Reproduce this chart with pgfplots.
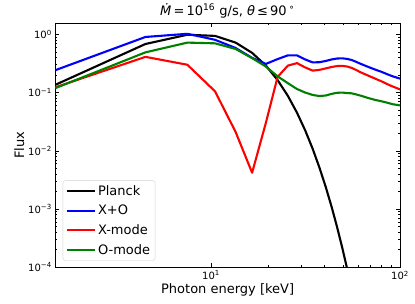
\documentclass[border=0pt]{standalone}
\usepackage{fontspec}
\setmainfont{DejaVu Sans}
\usepackage{pgfplots}
\usepackage{pgfplotstable}
\pgfplotsset{compat=1.18}

\pgfplotstableread{
E planck
1.5 0.1356
4.5 0.682
7.5 0.983
10.5 0.939
13.5 0.720
16.5 0.480
19.5 0.291
22.5 0.164
25.5 0.0879
28.5 0.04515
31.5 0.02243
34.5 0.01084
37.5 0.005121
40.5 0.002373
43.5 0.001082
46.5 0.000486
49.5 0.0002157
52.5 0.0000947
55.5 0.0000411
58.5 0.0000177
}\planck

\pgfplotstableread{
E xo xm om
1.5 0.242 0.123 0.119
4.5 0.90 0.41 0.49
7.5 1.02 0.30 0.72
10.5 0.805 0.105 0.70
13.5 0.581 0.021 0.56
16.5 0.394 0.0042 0.39
19.5 0.31 0.03 0.28
22.5 0.375 0.185 0.19
25.5 0.435 0.29 0.145
28.5 0.435 0.32 0.115
31.5 0.37 0.27 0.10
34.5 0.329 0.238 0.091
37.5 0.332 0.245 0.087
40.5 0.349 0.26 0.089
43.5 0.37 0.275 0.095
46.5 0.384 0.285 0.099
49.5 0.387 0.287 0.100
52.5 0.378 0.28 0.098
55.5 0.362 0.265 0.097
58.5 0.338 0.245 0.093
61.5 0.314 0.225 0.089
64.5 0.295 0.21 0.085
67.5 0.278 0.197 0.081
70.5 0.263 0.185 0.078
73.5 0.25 0.175 0.075
76.5 0.238 0.165 0.073
79.5 0.228 0.157 0.071
82.5 0.217 0.148 0.069
85.5 0.207 0.14 0.067
88.5 0.198 0.133 0.065
91.5 0.19 0.127 0.063
94.5 0.184 0.122 0.062
97.5 0.178 0.117 0.061
100.5 0.173 0.113 0.060
}\modes

\definecolor{mplgreen}{RGB}{0,128,0}

\begin{document}
\begin{tikzpicture}
\path[use as bounding box] (-55.3pt,-35.7pt) rectangle (359.7pt,267.3pt);
\begin{axis}[
  at={(0pt,0pt)}, anchor=south west,
  scale only axis,
  width=344.7pt, height=244pt,
  xmode=log, ymode=log,
  xmin=1.5, xmax=100,
  ymin=1e-4, ymax=1.545,
  xtick={10,100},
  xticklabels={10\textsuperscript{1},10\textsuperscript{2}},
  ytick={1e-4,1e-3,1e-2,1e-1,1},
  yticklabels={10\textsuperscript{−4},10\textsuperscript{−3},10\textsuperscript{−2},10\textsuperscript{−1},10\textsuperscript{0}},
  tick align=inside,
  xtick pos=both, ytick pos=both,
  major tick length=4pt, minor tick length=2.2pt,
  tick style={black, line width=0.6pt},
  axis line style={line width=0.7pt},
  tick label style={font=\fontsize{10}{12}\selectfont},
  label style={font=\fontsize{13}{15}\selectfont},
  xlabel={Photon energy [keV]},
  ylabel={Flux},
  xlabel style={yshift=3pt},
  ylabel style={yshift=-3pt},
  title={\textit{Ṁ}\,=\,10\textsuperscript{16} g/s, \textit{θ}\,≤\,90\,\textsuperscript{∘}},
  title style={font=\fontsize{13}{15}\selectfont, yshift=-4pt},
  legend cell align=left,
  legend style={at={(0.0215,0.027)}, anchor=south west,
    draw=black!18, rounded corners=2.5pt, fill=white, fill opacity=0.8, text opacity=1,
    font=\fontsize{13}{15}\selectfont, inner xsep=3pt, inner ysep=3pt,
    row sep=4.2pt},
  legend image code/.code={\draw[#1] (0pt,0pt) -- (28pt,0pt);},
  every axis plot/.append style={line width=2.1pt, line join=round},
]
\addplot[black] table[x=E, y=planck] {\planck};
\addlegendentry{Planck}
\addplot[blue] table[x=E, y=xo] {\modes};
\addlegendentry{X+O}
\addplot[red] table[x=E, y=xm] {\modes};
\addlegendentry{X-mode}
\addplot[mplgreen] table[x=E, y=om] {\modes};
\addlegendentry{O-mode}
\end{axis}
\end{tikzpicture}
\end{document}
